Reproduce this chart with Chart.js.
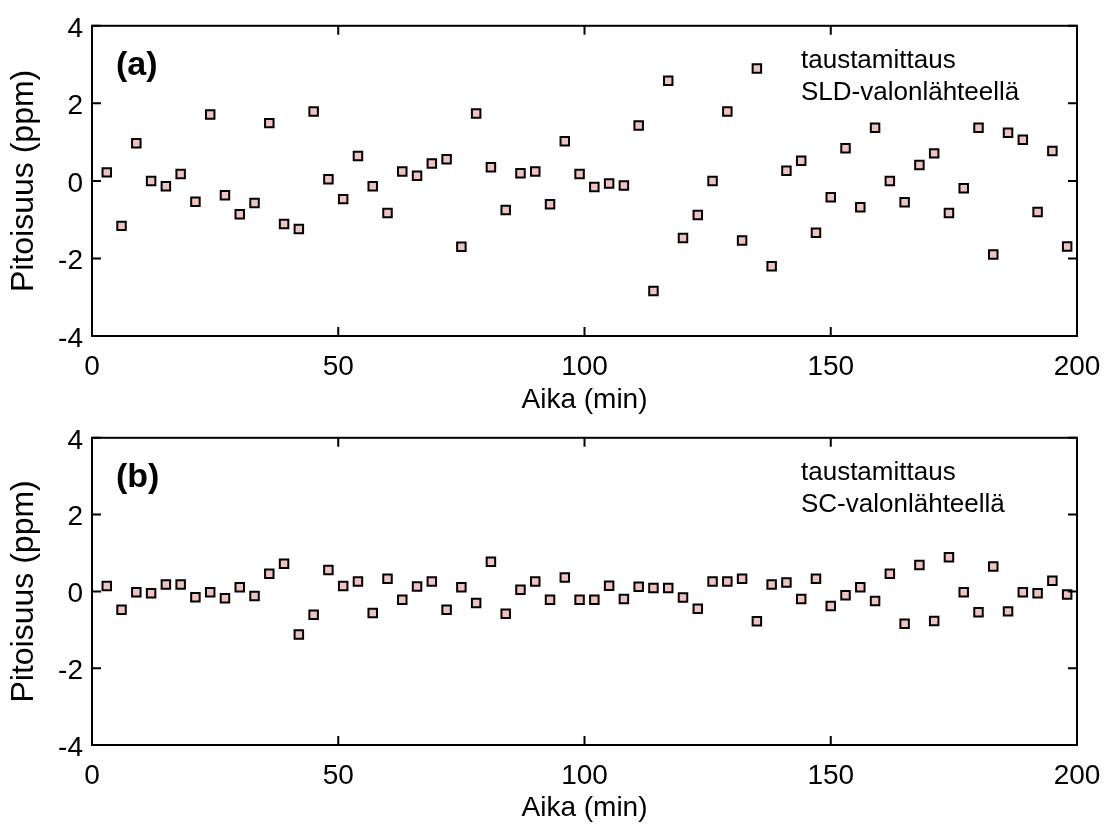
<!DOCTYPE html>
<html>
<head>
<meta charset="utf-8">
<script src="https://cdn.jsdelivr.net/npm/chart.js@4.4.0/dist/chart.umd.min.js"></script>
<style>
  html, body { margin: 0; padding: 0; background: #fff; }
  body { width: 1115px; height: 825px; position: relative; overflow: hidden; }
  canvas { position: absolute; left: 0; }
  #chartA { top: 0; }
  #chartB { top: 412px; }
</style>
</head>
<body>
<canvas id="chartA" width="1115" height="420"></canvas>
<canvas id="chartB" width="1115" height="413"></canvas>
<script>
// measurement times (min)
const times = [3, 6, 9, 12, 15, 18, 21, 24, 27, 30, 33, 36, 39, 42, 45, 48, 51, 54, 57, 60,
  63, 66, 69, 72, 75, 78, 81, 84, 87, 90, 93, 96, 99, 102, 105, 108, 111, 114, 117, 120,
  123, 126, 129, 132, 135, 138, 141, 144, 147, 150, 153, 156, 159, 162, 165, 168, 171, 174, 177, 180,
  183, 186, 189, 192, 195, 198];

// (a) background measurement with SLD source (ppm)
const sldValues = [0.22, -1.16, 0.97, 0.0, -0.14, 0.18, -0.54, 1.71, -0.37, -0.86,
  -0.57, 1.49, -1.11, -1.24, 1.79, 0.04, -0.47, 0.64, -0.14, -0.83,
  0.24, 0.13, 0.45, 0.56, -1.7, 1.74, 0.35, -0.75, 0.2, 0.24,
  -0.6, 1.02, 0.18, -0.16, -0.07, -0.12, 1.43, -2.84, 2.58, -1.47,
  -0.88, 0.0, 1.79, -1.54, 2.9, -2.2, 0.26, 0.52, -1.34, -0.42,
  0.84, -0.68, 1.37, 0.0, -0.55, 0.41, 0.71, -0.83, -0.19, 1.37,
  -1.9, 1.24, 1.06, -0.8, 0.77, -1.69];

// (b) background measurement with SC source (ppm)
const scValues = [0.14, -0.48, -0.02, -0.05, 0.18, 0.18, -0.15, -0.02, -0.18, 0.11,
  -0.12, 0.46, 0.72, -1.12, -0.61, 0.56, 0.14, 0.26, -0.56, 0.33,
  -0.22, 0.13, 0.26, -0.48, 0.11, -0.3, 0.77, -0.58, 0.04, 0.26,
  -0.22, 0.36, -0.22, -0.22, 0.15, -0.2, 0.12, 0.09, 0.09, -0.16,
  -0.45, 0.26, 0.26, 0.33, -0.78, 0.18, 0.23, -0.2, 0.33, -0.38,
  -0.1, 0.11, -0.25, 0.46, -0.84, 0.69, -0.77, 0.89, -0.02, -0.54,
  0.65, -0.52, -0.02, -0.05, 0.28, -0.08];

const xTitle = 'Aika (min)';
const yTitle = 'Pitoisuus (ppm)';
const notesA = ['taustamittaus', 'SLD-valonlähteellä'];
const notesB = ['taustamittaus', 'SC-valonlähteellä'];

const FONT = '"Liberation Sans", Arial, Helvetica, sans-serif';

// box, inward ticks on all sides, panel tag and note text
const framePlugin = {
  id: 'frame',
  afterDraw(chart, args, opts) {
    const { ctx, chartArea: a, scales: { x, y } } = chart;
    const len = 9;
    ctx.save();
    ctx.strokeStyle = '#000';
    ctx.lineWidth = 2;
    ctx.strokeRect(a.left, a.top, a.right - a.left, a.bottom - a.top);
    ctx.beginPath();
    x.ticks.forEach(t => {
      const px = x.getPixelForValue(t.value);
      ctx.moveTo(px, a.bottom); ctx.lineTo(px, a.bottom - len);
      ctx.moveTo(px, a.top); ctx.lineTo(px, a.top + len);
    });
    y.ticks.forEach(t => {
      const py = y.getPixelForValue(t.value);
      ctx.moveTo(a.left, py); ctx.lineTo(a.left + len, py);
      ctx.moveTo(a.right, py); ctx.lineTo(a.right - len, py);
    });
    ctx.stroke();

    ctx.fillStyle = '#000';
    ctx.textBaseline = 'alphabetic';
    ctx.textAlign = 'left';
    ctx.font = 'bold 34px ' + FONT;
    ctx.fillText(opts.tag, a.left + 24, a.top + 49);
    ctx.font = '26px ' + FONT;
    opts.notes.forEach((line, i) => {
      ctx.fillText(line, a.left + 709, a.top + 42 + i * 32);
    });
    ctx.restore();
  }
};

function makePanel(id, values, tag, notes, topPad, xHeight, xTitlePad) {
  const ctx = document.getElementById(id).getContext('2d');
  return new Chart(ctx, {
    type: 'scatter',
    data: {
      datasets: [{
        data: times.map((t, i) => ({ x: t, y: values[i] })),
        pointStyle: 'rect',
        pointRadius: 6,
        pointHoverRadius: 6,
        pointBackgroundColor: '#f0c2c0',
        pointBorderColor: '#000',
        pointBorderWidth: 2
      }]
    },
    options: {
      responsive: false,
      animation: false,
      devicePixelRatio: 1,
      layout: { padding: { top: topPad, right: 38, left: 0, bottom: 0 } },
      plugins: {
        legend: { display: false },
        tooltip: { enabled: false },
        frame: { tag: tag, notes: notes }
      },
      scales: {
        x: {
          type: 'linear',
          min: 0,
          max: 200,
          grid: { display: false, drawTicks: false },
          border: { display: false },
          ticks: { stepSize: 50, color: '#000', padding: 14, font: { family: FONT, size: 28 } },
          title: {
            display: true, text: xTitle, color: '#000',
            font: { family: FONT, size: 28, lineHeight: 1.2 },
            padding: { top: 0, bottom: xTitlePad }
          },
          afterFit(scale) { scale.height = xHeight; }
        },
        y: {
          min: -4,
          max: 4,
          grid: { display: false, drawTicks: false },
          border: { display: false },
          ticks: { stepSize: 2, color: '#000', padding: 9, labelOffset: 3, font: { family: FONT, size: 28 } },
          title: {
            display: true, text: yTitle, color: '#000',
            font: { family: FONT, size: 32, lineHeight: 1.2 },
            padding: { top: 5, bottom: 0 }
          },
          afterFit(scale) { scale.width = 92; }
        }
      }
    },
    plugins: [framePlugin]
  });
}

makePanel('chartA', sldValues, '(a)', notesA, 23, 84, 3);
makePanel('chartB', scValues, '(b)', notesB, 19, 80, 0);
</script>
</body>
</html>
